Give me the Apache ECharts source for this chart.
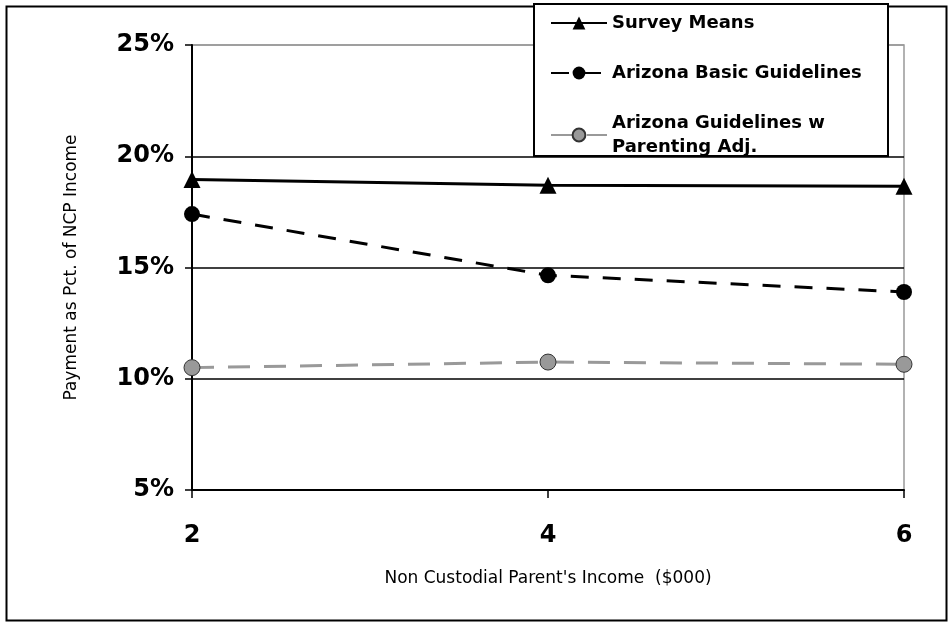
<!DOCTYPE html>
<html>
<head>
<meta charset="utf-8">
<script src="https://cdn.jsdelivr.net/npm/echarts@6/dist/echarts.min.js"></script>
<style>
html,body{margin:0;padding:0;background:#fff;}
#chart{width:948px;height:623px;}
</style>
</head>
<body>
<div id="chart"></div>
<script>
var incomes = [2, 4, 6];
var surveyMeans = [18.95, 18.7, 18.65];
var arizonaBasic = [17.4, 14.65, 13.9];
var arizonaParenting = [10.5, 10.75, 10.65];
var seriesNames = ['Survey Means', 'Arizona Basic Guidelines', 'Arizona Guidelines w Parenting Adj.'];
var yTicks = [5, 10, 15, 20, 25];

function pairs(vals) { return incomes.map(function (x, i) { return [x, vals[i]]; }); }

var chart = echarts.init(document.getElementById('chart'), null, {renderer: 'canvas'});
var boldFont = 'DejaVu Sans, Liberation Sans, sans-serif';
var font = 'DejaVu Sans, Liberation Sans, sans-serif';
chart.setOption({
  animation: false,
  backgroundColor: '#fff',
  graphic: [
    {type: 'rect', left: 4, top: 4, shape: {width: 940, height: 614}, style: {fill: 'none', stroke: '#000', lineWidth: 2}, z: 0},
    {type: 'rect', left: 533, top: 3, shape: {width: 354, height: 152}, style: {fill: '#fff', stroke: '#000', lineWidth: 2}, z: 50}
  ],
  grid: {left: 192, right: 44, top: 45, bottom: 133, show: true, borderColor: '#999', borderWidth: 1.5, backgroundColor: 'transparent'},
  legend: {
    orient: 'vertical', left: 545, top: 6, itemGap: 26, itemWidth: 56, itemHeight: 16, z: 60,
    data: seriesNames,
    formatter: function (n) { return n === seriesNames[2] ? 'Arizona Guidelines w\nParenting Adj.' : n; },
    textStyle: {fontFamily: boldFont, fontWeight: 'bold', fontSize: 18, color: '#000', lineHeight: 24}
  },
  xAxis: {
    type: 'value', min: 2, max: 6, interval: 2,
    name: "Non Custodial Parent's Income  ($000)", nameLocation: 'middle', nameGap: 80,
    nameTextStyle: {fontFamily: font, fontSize: 17, color: '#000'},
    axisLine: {lineStyle: {color: '#000', width: 2}},
    axisTick: {show: true, length: 8, lineStyle: {color: '#000', width: 1.5}},
    axisLabel: {formatter: function (v) { return String(v); }, fontFamily: boldFont, fontWeight: 'bold', fontSize: 24, color: '#000', margin: 34},
    splitLine: {show: false}
  },
  yAxis: {
    type: 'value', min: yTicks[0], max: yTicks[yTicks.length - 1], interval: 5,
    name: 'Payment as Pct. of NCP Income', nameLocation: 'middle', nameGap: 112, nameRotate: 90,
    nameTextStyle: {fontFamily: font, fontSize: 17, color: '#000'},
    axisLine: {show: true, lineStyle: {color: '#000', width: 2}},
    axisTick: {show: true, length: 7, lineStyle: {color: '#000', width: 1.5}},
    axisLabel: {formatter: '{value}%', fontFamily: boldFont, fontWeight: 'bold', fontSize: 24, color: '#000', margin: 18},
    splitLine: {show: true, lineStyle: {color: ['#000', '#000', '#000', '#000', '#999'], width: 1.5}}
  },
  series: [
    {name: seriesNames[0], type: 'line', data: pairs(surveyMeans), symbol: 'triangle', symbolSize: 17,
     lineStyle: {color: '#000', width: 3}, itemStyle: {color: '#000'}, z: 5},
    {name: seriesNames[1], type: 'line', data: pairs(arizonaBasic), symbol: 'circle', symbolSize: 16,
     lineStyle: {color: '#000', width: 3, type: [18, 14]}, itemStyle: {color: '#000'}, z: 4},
    {name: seriesNames[2], type: 'line', data: pairs(arizonaParenting), symbol: 'circle', symbolSize: 16,
     lineStyle: {color: '#999', width: 3, type: [22, 14]}, itemStyle: {color: '#999', borderColor: '#333', borderWidth: 1}, z: 3}
  ]
});
</script>
</body>
</html>
